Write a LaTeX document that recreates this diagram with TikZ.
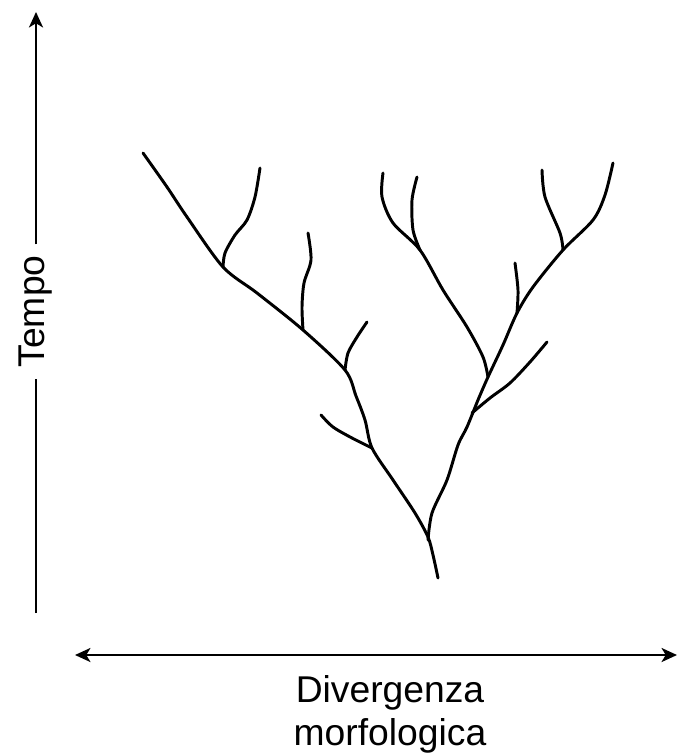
\documentclass[tikz,border=0pt]{standalone}
\usepackage{fontspec}
\setmainfont{Liberation Sans}
\usetikzlibrary{arrows.meta, positioning}

\tikzset{
    axisline/.style={line width=1.6pt, black},
    axistip/.tip={Stealth[length=11pt, width=10pt, inset=3pt]},
    lineage/.style={line width=2.1pt, line cap=round, line join=round},
    axislabel/.style={font=\fontsize{26.5}{32}\selectfont, inner ysep=0pt}
}

\begin{document}
\begin{tikzpicture}[x=0.025cm, y=-0.025cm]
                    \useasboundingbox (0,0) rectangle (678,756);

                    % Time axis (vertical)
                    \coordinate (torigin) at (36,613);
                    \coordinate (ttop) at (36,12);
                    \node[axislabel, rotate=90, inner xsep=7.8pt] (tempo) at (36,311.5) {Tempo};
                    \draw[axisline] (torigin) -- (tempo.west);
                    \draw[axisline, -axistip] (tempo.east) -- (ttop);

                    % Divergence axis (horizontal)
                    \coordinate (dleft) at (75,655);
                    \coordinate (dright) at (677,655);
                    \draw[axisline, axistip-axistip] (dleft) -- (dright);
                    \node[axislabel, anchor=base] (divergenza) at (390,702) {Divergenza};
                    \node[axislabel, anchor=base] (morfologica) at (390,745) {morfologica};

                    % Left lineage down to the root
                    \draw[lineage] plot[smooth] coordinates {(143,153) (167,187) (187,217) (223,267) (257,293)
                        (303,330) (345,370) (356,396) (365,420) (372,448) (393,480) (415,513) (428,537)
                        (433,555) (438,578)};
                    \draw[lineage] plot[smooth] coordinates {(223,267) (225,253) (235,235) (247,220) (255,197) (260,168)};
                    \draw[lineage] plot[smooth] coordinates {(303,330) (302,307) (304,283) (311,260) (308,233)};
                    \draw[lineage] plot[smooth] coordinates {(345,370) (348,353) (357,337) (367,322)};
                    \draw[lineage] plot[smooth] coordinates {(372,448) (352,438) (333,427) (321,415)};

                    % Right lineage
                    \draw[lineage] plot[smooth] coordinates {(428,540) (432,513) (447,480) (458,445) (467,427)
                        (478,400) (488,377) (503,345) (517,313) (533,287) (563,250) (593,220) (605,195) (613,163)};
                    \draw[lineage] plot[smooth] coordinates {(472,413) (490,398) (510,383) (530,362) (547,342)};
                    \draw[lineage] plot[smooth] coordinates {(488,377) (483,357) (467,327) (443,290) (420,250)
                        (393,223) (382,197) (383,173)};
                    \draw[lineage] plot[smooth] coordinates {(420,250) (413,230) (412,200) (417,177)};
                    \draw[lineage] plot[smooth] coordinates {(517,313) (518,290) (515,263)};
                    \draw[lineage] plot[smooth] coordinates {(563,250) (560,233) (545,197) (542,170)};
                \end{tikzpicture}
\end{document}
